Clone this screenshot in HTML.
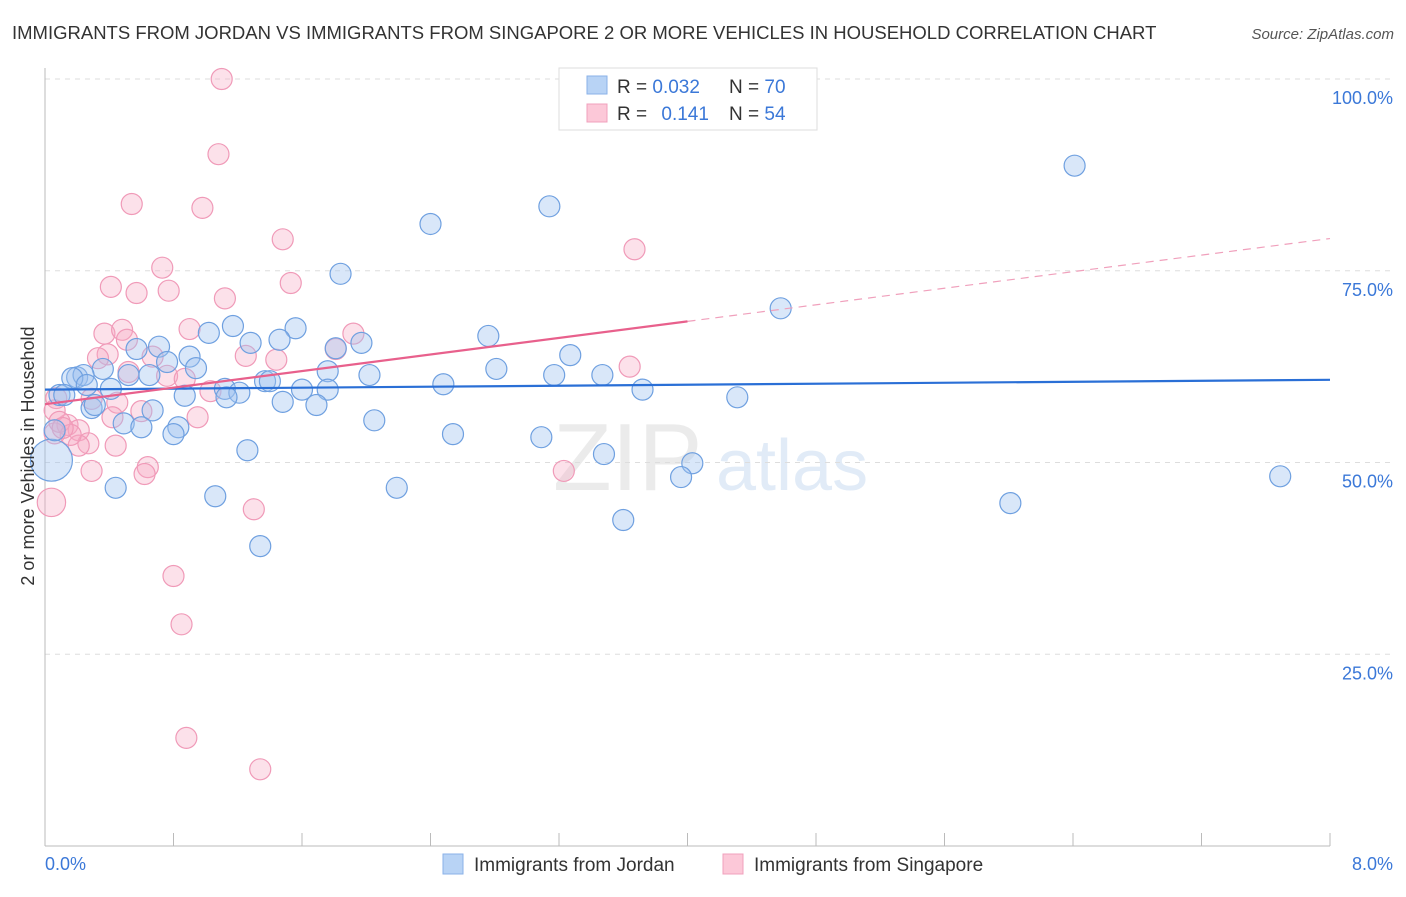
<!DOCTYPE html>
<html><head><meta charset="utf-8"><style>
body{margin:0;background:#fff;font-family:"Liberation Sans",sans-serif}
svg text{font-family:"Liberation Sans",sans-serif}
</style></head><body>
<svg id="chart" width="1406" height="892" xmlns="http://www.w3.org/2000/svg">
<text x="12" y="39" font-size="18.5" fill="#333">IMMIGRANTS FROM JORDAN VS IMMIGRANTS FROM SINGAPORE 2 OR MORE VEHICLES IN HOUSEHOLD CORRELATION CHART</text>
<text x="1394" y="39" font-size="15" font-style="italic" fill="#555" text-anchor="end">Source: ZipAtlas.com</text>
<g opacity="0.5">
<text x="553" y="490" font-size="96" font-family="Liberation Serif,serif" fill="#d8d8d8">ZIP</text>
<text x="716" y="490" font-size="72" fill="#c4d8f0">atlas</text>
</g>
<g id="grid"></g>
<g id="axes"></g>
<g id="marks"></g>
<text transform="translate(34,456) rotate(-90)" font-size="18" fill="#333" text-anchor="middle">2 or more Vehicles in Household</text>
<g>
<rect x="559" y="68" width="258" height="62" fill="#fff" stroke="#ddd"/>
<rect x="587" y="76" width="20" height="18" fill="#b8d3f5" stroke="#8ab2e8"/>
<rect x="587" y="104" width="20" height="18" fill="#fcc8d8" stroke="#f0a0bc"/>
<text x="617" y="93" font-size="19" fill="#333">R = <tspan fill="#3b78d8">0.032</tspan></text>
<text x="729" y="93" font-size="19" fill="#333">N = <tspan fill="#3b78d8">70</tspan></text>
<text x="617" y="120" font-size="19" fill="#333">R = <tspan fill="#3b78d8" dx="9">0.141</tspan></text>
<text x="729" y="120" font-size="19" fill="#333">N = <tspan fill="#3b78d8">54</tspan></text>
</g>
<g>
<rect x="443" y="854" width="20" height="20" fill="#b8d3f5" stroke="#8ab2e8"/>
<text x="474" y="871" font-size="19" fill="#333">Immigrants from Jordan</text>
<rect x="723" y="854" width="20" height="20" fill="#fcc8d8" stroke="#f0a0bc"/>
<text x="754" y="871" font-size="19" fill="#333">Immigrants from Singapore</text>
</g>
</svg>
<script>
const xTickLabels=["0.0%","8.0%"];
const yTicks=[25,50,75,100];
const yTickLabels=["25.0%","50.0%","75.0%","100.0%"];
const jordanX=[6.41,3.14,2.40,1.84,4.58,1.17,1.02,1.56,2.76,1.46,1.28,1.81,1.97,0.57,0.71,0.90,0.76,3.27,0.94,0.36,0.20,0.24,0.65,0.52,1.76,2.02,2.81,3.17,3.47,1.37,1.40,0.09,0.17,0.26,0.41,2.48,3.72,1.60,1.76,1.12,1.21,0.87,1.13,1.48,1.69,0.29,0.67,0.49,0.60,2.05,0.83,0.80,2.54,3.09,1.26,3.48,4.03,3.96,7.69,1.06,0.44,2.19,6.01,3.60,1.34,4.31,0.04,0.12,0.31,0.06];
const jordanY=[88.7,83.4,81.1,74.6,70.1,67.8,66.9,67.5,66.5,66.0,65.6,64.9,65.6,64.8,65.1,63.8,63.1,64.0,62.3,62.2,61.1,61.4,61.4,61.4,61.9,61.4,62.2,61.4,61.4,60.6,60.6,58.8,61.0,60.1,59.6,60.2,59.5,59.5,59.5,59.6,59.1,58.7,58.5,57.9,57.5,57.1,56.8,55.1,54.6,55.5,54.6,53.7,53.7,53.3,51.6,51.1,49.9,48.1,48.2,45.6,46.7,46.7,44.7,42.5,39.1,58.5,50.3,58.8,57.5,54.2];
const jordanSize=jordanX.map((_,i)=>i===66?2:1);
const singX=[1.10,1.08,0.54,0.98,1.48,3.67,0.73,1.53,0.41,0.57,0.77,1.12,0.37,0.48,0.90,0.51,1.92,1.81,0.39,0.33,0.67,1.25,1.44,3.64,0.52,0.76,0.87,1.03,0.07,0.29,0.45,0.42,0.60,0.95,0.14,0.06,0.21,0.27,0.21,0.44,0.64,0.62,0.29,3.23,1.30,0.80,0.85,0.88,1.34,0.04,0.06,0.09,0.16,0.11];
const singY=[100.0,90.2,83.7,83.2,79.1,77.8,75.4,73.4,72.9,72.1,72.4,71.4,66.8,67.3,67.4,66.0,66.8,64.8,64.1,63.6,63.8,63.9,63.4,62.5,61.8,61.3,60.9,59.3,58.4,58.3,57.8,55.9,56.7,55.9,54.9,53.8,54.2,52.5,52.2,52.2,49.4,48.5,48.9,48.9,43.9,35.2,28.9,14.1,10.0,44.8,56.8,55.3,53.6,54.5];
const singSize=singX.map((_,i)=>i===49?1.35:1);
const jordanTrend=[59.5,0.16];
const singTrend=[57.6,2.7];
const singSolidEnd=4.0;

const NS="http://www.w3.org/2000/svg";
const X=v=>45+v/8*1285;
const Y=v=>846-v/100*767;
function mk(tag,attrs,parent){const e=document.createElementNS(NS,tag);for(const k in attrs)e.setAttribute(k,attrs[k]);document.getElementById(parent).appendChild(e);return e;}
yTicks.forEach((t,i)=>{
  const g=mk('line',{x1:45,x2:1394,y1:Y(t),y2:Y(t),stroke:'#ddd','stroke-dasharray':'5,5'},'grid');
  
  
  const l=mk('text',{x:1393,y:Y(t)+25,'font-size':18,fill:'#3b78d8','text-anchor':'end'},'grid');
  l.textContent=yTickLabels[i];
  
  
});
const ax=mk('line',{x1:45,x2:45,y1:68,y2:846,stroke:'#bbb'},'axes');


const bx=mk('line',{x1:45,x2:1330,y1:846,y2:846,stroke:'#bbb'},'axes');


for(let i=0;i<=10;i++){
  const t=mk('line',{x1:X(i*0.8),x2:X(i*0.8),y1:833,y2:846,stroke:'#bbb'},'axes');
  
  
}
const x0=mk('text',{x:45,y:870,'font-size':18,fill:'#3b78d8'},'axes');x0.textContent=xTickLabels[0];


const x1=mk('text',{x:1393,y:870,'font-size':18,fill:'#3b78d8','text-anchor':'end'},'axes');x1.textContent=xTickLabels[1];


singX.forEach((v,i)=>{
  const c=mk('circle',{cx:X(v),cy:Y(singY[i]),r:10.5*singSize[i],fill:'rgba(246,170,196,0.35)',stroke:'#f09ab8','stroke-width':1.2},'marks');
  
  
});
jordanX.forEach((v,i)=>{
  const c=mk('circle',{cx:X(v),cy:Y(jordanY[i]),r:10.5*jordanSize[i],fill:'rgba(160,196,240,0.4)',stroke:'#6fa0e0','stroke-width':1.2},'marks');
  
  
});
const bl=mk('line',{x1:X(0),x2:X(8),y1:Y(jordanTrend[0]),y2:Y(jordanTrend[0]+jordanTrend[1]*8),stroke:'#2a6fd6','stroke-width':2.2},'marks');


const pl=mk('line',{x1:X(0),x2:X(singSolidEnd),y1:Y(singTrend[0]),y2:Y(singTrend[0]+singTrend[1]*singSolidEnd),stroke:'#e8608c','stroke-width':2.2},'marks');


const pd=mk('line',{x1:X(singSolidEnd),x2:X(8),y1:Y(singTrend[0]+singTrend[1]*singSolidEnd),y2:Y(singTrend[0]+singTrend[1]*8),stroke:'#f0a0bc','stroke-width':1.2,'stroke-dasharray':'8,6'},'marks');


</script>
</body></html>
